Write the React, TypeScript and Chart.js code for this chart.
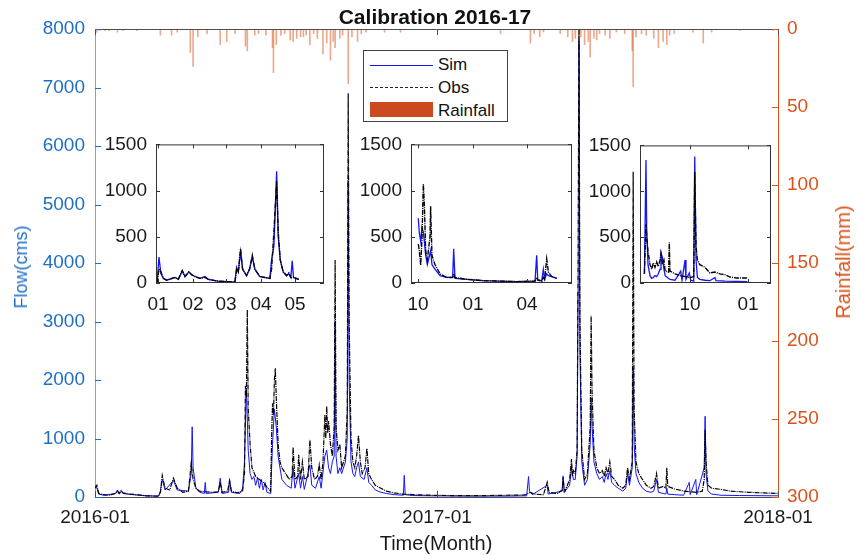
import React, { useEffect, useRef } from 'react';
import { Chart, registerables } from 'chart.js';

Chart.register(...registerables);
Chart.defaults.font.family = "'Liberation Sans', Arial, sans-serif";

type P = [number, number];

// ---- DATA (x = days since 2016-01-01) ----
const mainTickDays = [0, 366, 731];
const mainTickLabels = ['2016-01', '2017-01', '2018-01'];

const mainSim: P[] = [
  [0, 200], [2, 150], [4, 50], [10, 30], [22, 60], [24, 120], [26, 50], [28, 100], [30, 60], [40, 40], [55, 20], [68, 15],
  [70, 100], [72, 300], [75, 120], [84, 280], [88, 120], [100, 100], [103, 400], [104, 1200], [105, 500], [108, 150],
  [112, 80], [117, 60], [118, 250], [119, 60], [132, 80], [134, 320], [136, 60], [143, 80], [144, 300], [146, 80],
  [155, 60], [158, 150], [160, 600], [162, 1850], [164, 800], [166, 400], [168, 300], [170, 350], [172, 200], [174, 330],
  [176, 150], [178, 300], [180, 120], [182, 250], [184, 80], [188, 60], [190, 900], [192, 1500], [194, 1200], [196, 700],
  [200, 300], [205, 200], [210, 150], [212, 500], [214, 150], [218, 400], [220, 150], [222, 350], [224, 130], [230, 550],
  [232, 200], [236, 150], [240, 350], [242, 150], [246, 700], [248, 800], [250, 500], [252, 400], [254, 600], [256, 700],
  [257, 3000], [258, 700], [260, 400], [262, 500], [264, 400], [268, 600], [270, 1000], [271, 5400], [272, 2000],
  [274, 600], [276, 400], [278, 350], [280, 500], [282, 600], [284, 350], [288, 300], [291, 500], [293, 250], [296, 200],
  [300, 120], [306, 80], [312, 60], [320, 40], [330, 30], [331, 370], [332, 40], [340, 25], [360, 20], [400, 15],
  [440, 15], [462, 20], [464, 350], [465, 100], [468, 40], [484, 200], [485, 50], [500, 100], [501, 350], [502, 80],
  [508, 200], [510, 500], [512, 300], [514, 300], [516, 700], [517, 3500], [518, 7800], [519, 2500], [521, 600],
  [524, 200], [527, 300], [530, 900], [531, 1700], [532, 1200], [534, 600], [537, 400], [540, 300], [543, 350],
  [545, 250], [547, 400], [549, 300], [551, 450], [553, 250], [556, 200], [560, 150], [565, 100], [568, 150], [570, 400],
  [572, 200], [575, 500], [576, 2200], [577, 900], [579, 400], [582, 250], [586, 150], [590, 100], [595, 80], [598, 100],
  [601, 300], [603, 80], [608, 60], [611, 50], [612, 150], [613, 50], [620, 40], [630, 30], [636, 250], [637, 40],
  [643, 300], [644, 40], [652, 500], [653, 1380], [654, 400], [656, 100], [660, 50], [670, 30], [690, 25], [731, 20],
];

const mainObs: P[] = [
  [0, 150], [2, 200], [4, 60], [8, 40], [15, 30], [22, 60], [24, 100], [26, 60], [28, 110], [30, 70], [36, 50], [45, 40],
  [55, 20], [68, 15], [70, 80], [72, 370], [75, 150], [80, 120], [84, 320], [88, 150], [94, 80], [100, 100], [103, 580],
  [105, 300], [108, 150], [112, 100], [118, 90], [125, 80], [132, 90], [134, 250], [136, 80], [142, 100], [144, 280],
  [146, 100], [152, 70], [158, 100], [160, 400], [161, 1900], [162, 1700], [163, 3200], [164, 1500], [166, 900],
  [168, 500], [172, 350], [176, 300], [180, 250], [185, 150], [188, 100], [189, 1000], [190, 1600], [191, 1400],
  [192, 2000], [193, 2200], [194, 1700], [196, 900], [198, 600], [200, 500], [204, 400], [208, 300], [211, 350],
  [212, 850], [214, 300], [217, 350], [218, 720], [220, 300], [222, 600], [224, 300], [228, 350], [230, 980], [232, 500],
  [235, 300], [238, 350], [240, 550], [242, 300], [244, 600], [246, 1400], [247, 1000], [248, 1550], [249, 1100],
  [250, 1300], [252, 900], [254, 700], [256, 1200], [257, 4050], [258, 1200], [260, 800], [262, 900], [264, 500],
  [266, 600], [268, 700], [270, 1500], [271, 6900], [272, 3000], [274, 1000], [276, 600], [278, 500], [280, 700],
  [282, 1050], [284, 600], [286, 400], [289, 500], [291, 830], [293, 400], [296, 300], [300, 200], [306, 150],
  [312, 100], [320, 70], [330, 50], [340, 40], [360, 30], [380, 25], [420, 25], [440, 30], [460, 35], [466, 80],
  [470, 50], [480, 40], [484, 250], [486, 80], [495, 60], [500, 120], [501, 300], [503, 100], [508, 300], [510, 650],
  [511, 350], [512, 450], [514, 400], [516, 800], [517, 4000], [518, 8100], [519, 3000], [521, 800], [524, 300],
  [527, 400], [530, 1200], [531, 3100], [532, 1800], [534, 800], [537, 500], [540, 400], [543, 450], [545, 350],
  [547, 500], [549, 400], [551, 600], [553, 350], [556, 300], [560, 200], [565, 150], [568, 200], [570, 500], [572, 300],
  [575, 600], [576, 5560], [577, 1500], [579, 600], [582, 400], [586, 300], [590, 200], [595, 150], [598, 180],
  [601, 400], [603, 150], [608, 180], [611, 150], [612, 500], [613, 180], [620, 140], [630, 100], [636, 90], [644, 80],
  [650, 100], [652, 300], [653, 1150], [654, 600], [656, 200], [660, 150], [670, 130], [680, 100], [690, 90], [700, 80],
  [715, 70], [731, 60],
];

const mainRain: P[] = [
  [2, 2], [5, 1], [11, 1], [15, 1], [24, 2], [30, 1], [45, 1], [70, 4], [82, 4], [88, 2], [102, 15], [105, 24], [110, 5],
  [120, 3], [134, 10], [141, 8], [150, 3], [161, 11], [163, 14], [171, 4], [175, 3], [183, 4], [190, 12], [191, 28],
  [194, 10], [199, 4], [203, 3], [209, 7], [212, 8], [216, 6], [220, 5], [223, 5], [226, 4], [230, 10], [234, 3],
  [238, 6], [244, 16], [248, 9], [252, 20], [255, 8], [257, 12], [262, 6], [265, 4], [271, 35], [275, 5], [281, 8],
  [285, 3], [290, 2], [310, 2], [327, 2], [434, 3], [466, 9], [470, 3], [476, 5], [480, 2], [498, 3], [506, 5], [511, 8],
  [514, 6], [518, 14], [520, 5], [524, 10], [528, 8], [530, 18], [534, 6], [537, 7], [540, 3], [546, 4], [551, 6],
  [558, 2], [567, 3], [575, 14], [576, 37], [579, 5], [585, 3], [590, 4], [598, 6], [603, 12], [608, 8], [612, 10],
  [615, 4], [620, 3], [640, 2], [651, 9], [660, 2], [690, 1], [726, 1],
];

const inset1TickDays = [0, 31, 60, 91, 121];
const inset1TickLabels = ['01', '02', '03', '04', '05'];
const inset1Sim: P[] = [
  [-1, 0], [0.6, 280], [2.4, 100], [4.5, 50], [7.4, 30], [14.8, 60], [17.8, 40], [21.3, 130], [23.7, 70], [27.2, 120],
  [29.6, 90], [32.5, 70], [37, 50], [41.4, 70], [44.4, 40], [53, 20], [68, 10], [69.5, 170], [71, 120], [73, 340],
  [74.8, 150], [78.3, 80], [81, 150], [83.4, 280], [85.7, 150], [90, 70], [99, 50], [100.5, 250], [102.6, 400],
  [105, 1210], [106.4, 500], [108.2, 250], [110.8, 120], [113.8, 80], [115.8, 100], [117.6, 60], [118.8, 240],
  [120, 60], [124.6, 40],
];
const inset1Obs: P[] = [
  [-1, 0], [0.6, 150], [2.4, 120], [4.5, 50], [7.4, 30], [14.8, 60], [17.8, 40], [21.3, 135], [23.7, 70], [27.2, 120],
  [29.6, 90], [32.5, 70], [37, 50], [41.4, 60], [44.4, 40], [53, 20], [68, 10], [69.5, 150], [71, 120], [73, 370],
  [74.8, 150], [78.3, 80], [81, 150], [83.4, 300], [85.7, 150], [90, 70], [99, 50], [100.5, 150], [102.6, 560],
  [105, 1100], [106.4, 550], [108.2, 250], [110.8, 120], [113.8, 80], [115.8, 110], [117.6, 60], [120, 60],
  [124.6, 40],
];

const inset2TickDays = [274, 366, 456];
const inset2TickLabels = ['10', '01', '04'];
const inset2Sim: P[] = [
  [274.2, 700], [275.8, 550], [278.2, 450], [280.4, 600], [282.6, 550], [284.3, 450], [286.5, 300], [289.3, 200],
  [294.8, 350], [297, 200], [302, 150], [310.4, 80], [321.6, 60], [331.6, 60], [333.3, 370], [335.5, 50], [355, 40],
  [382.8, 25], [410.7, 20], [438.6, 15], [469.2, 20], [472, 300], [473.7, 40], [480.4, 20], [483.1, 150], [485.3, 40],
  [488.7, 100], [491.5, 80], [497, 70], [505.5, 50],
];
const inset2Obs: P[] = [
  [274.2, 420], [275.8, 350], [278.2, 190], [280.4, 500], [282.6, 1070], [284.3, 850], [286.5, 350], [289.3, 250],
  [293.7, 500], [294.8, 830], [297, 300], [302, 200], [310.4, 100], [321.6, 60], [331.6, 60], [333.3, 100], [335.5, 60],
  [355, 40], [382.8, 25], [410.7, 20], [438.6, 15], [469.2, 20], [472, 60], [473.7, 30], [480.4, 20], [483.1, 60],
  [485.3, 40], [488.7, 260], [491.5, 120], [497, 70], [505.5, 50],
];

const inset3TickDays = [639, 731];
const inset3TickLabels = ['10', '01'];
const inset3Sim: P[] = [
  [567, 100], [569.5, 1340], [570.6, 600], [572.7, 200], [575.9, 80], [578.5, 50], [581.2, 60], [583.8, 80], [586.5, 70],
  [589.1, 100], [591.8, 150], [593.3, 330], [595.5, 280], [598, 150], [600, 80], [605.5, 50], [607.6, 40], [615.6, 30],
  [624.6, 130], [626.7, 30], [631.5, 250], [633, 40], [638.3, 110], [640.4, 30], [645.3, 20], [646.9, 1380], [649, 250],
  [651.2, 60], [654.9, 40], [663.2, 30], [671, 25], [679, 60], [680.6, 25], [695, 20], [713.6, 18], [730.4, 15],
];
const inset3Obs: P[] = [
  [567, 100], [569.5, 640], [570.6, 500], [572.7, 350], [575.9, 200], [578.5, 150], [581.2, 220], [583.8, 170],
  [586.5, 230], [589.1, 180], [591.8, 250], [593.3, 320], [595.5, 200], [598, 250], [600, 130], [605.5, 120],
  [606.5, 440], [607.6, 130], [615.6, 100], [624.6, 80], [631.5, 70], [640.4, 60], [645.3, 70], [646.9, 1210],
  [649, 400], [651.2, 250], [654.9, 200], [663.2, 170], [671, 110], [679, 120], [687, 100], [695, 90], [703, 65],
  [713.6, 55], [730.4, 55],
];

// ---- STYLE ----
const SIM_COLOR = '#1414ff';
const OBS_COLOR = '#000000';
const RAIN_COLOR = 'rgba(217,83,25,0.5)';
const LEFT_COLOR = '#1f6ec4';
const RIGHT_COLOR = '#D95319';
const FRAME = '#4d4d4d';
const FONT_FAMILY = "'Liberation Sans', Arial, sans-serif";
const TICK_FONT = { size: 19 };
const OBS_DASH = [5, 1, 1, 1];
const INSET_AXIS_W = 60;
const INSET_AXIS_H = 34;
const INSET_PAD_T = 12;
const INSET_PAD_R = 8;

const toXY = (arr: P[]) => arr.map(([x, y]) => ({ x, y }));
const plain = (v: any) => String(v);
const labelFor = (days: number[], labels: string[]) => (v: any) => {
  const i = days.indexOf(Number(v));
  return i >= 0 ? labels[i] : '';
};

const mainFrame = {
  id: 'mainFrame',
  afterDraw(chart: any) {
    const { ctx, chartArea: a, scales } = chart;
    ctx.save();
    ctx.lineWidth = 1;
    ctx.strokeStyle = FRAME;
    ctx.beginPath();
    ctx.moveTo(a.left, a.top + 0.5);
    ctx.lineTo(a.right, a.top + 0.5);
    for (const d of mainTickDays) {
      const x = Math.round(scales.x.getPixelForValue(d)) + 0.5;
      ctx.moveTo(x, a.bottom);
      ctx.lineTo(x, a.bottom - 6);
      ctx.moveTo(x, a.top);
      ctx.lineTo(x, a.top + 6);
    }
    ctx.stroke();
    ctx.strokeStyle = LEFT_COLOR;
    ctx.beginPath();
    for (const t of scales.y.ticks) {
      const y = Math.round(scales.y.getPixelForValue(t.value)) + 0.5;
      ctx.moveTo(a.left, y);
      ctx.lineTo(a.left + 6, y);
    }
    ctx.stroke();
    ctx.strokeStyle = RIGHT_COLOR;
    ctx.beginPath();
    for (const t of scales.y1.ticks) {
      const y = Math.round(scales.y1.getPixelForValue(t.value)) + 0.5;
      ctx.moveTo(a.right, y);
      ctx.lineTo(a.right - 6, y);
    }
    ctx.stroke();
    ctx.restore();
  },
};

const insetFrame = {
  id: 'insetFrame',
  beforeDraw(chart: any) {
    const { ctx, chartArea: a } = chart;
    ctx.save();
    ctx.fillStyle = '#ffffff';
    ctx.fillRect(a.left, a.top, a.right - a.left, a.bottom - a.top);
    ctx.restore();
  },
  afterDraw(chart: any) {
    const { ctx, chartArea: a, scales } = chart;
    ctx.save();
    ctx.lineWidth = 1;
    ctx.strokeStyle = '#333';
    ctx.strokeRect(a.left + 0.5, a.top + 0.5, a.right - a.left - 1, a.bottom - a.top - 1);
    ctx.beginPath();
    for (const t of scales.x.ticks) {
      const x = Math.round(scales.x.getPixelForValue(t.value)) + 0.5;
      ctx.moveTo(x, a.bottom);
      ctx.lineTo(x, a.bottom - 4);
      ctx.moveTo(x, a.top);
      ctx.lineTo(x, a.top + 4);
    }
    for (const t of scales.y.ticks) {
      const y = Math.round(scales.y.getPixelForValue(t.value)) + 0.5;
      ctx.moveTo(a.left, y);
      ctx.lineTo(a.left + 4, y);
      ctx.moveTo(a.right, y);
      ctx.lineTo(a.right - 4, y);
    }
    ctx.stroke();
    ctx.restore();
  },
};

function insetConfig(sim: P[], obs: P[], min: number, max: number, tickDays: number[]): any {
  return {
    type: 'line',
    data: {
      datasets: [
        { label: 'Obs', data: toXY(obs), borderColor: OBS_COLOR, borderWidth: 1.4, borderDash: OBS_DASH, pointRadius: 0, order: 1 },
        { label: 'Sim', data: toXY(sim), borderColor: SIM_COLOR, borderWidth: 1.3, pointRadius: 0, order: 2 },
      ],
    },
    options: {
      animation: false,
      responsive: false,
      events: [],
      layout: { padding: { top: INSET_PAD_T, right: INSET_PAD_R, left: 0, bottom: 0 } },
      plugins: { legend: { display: false }, tooltip: { enabled: false } },
      scales: {
        x: {
          type: 'linear', min, max, offset: false,
          grid: { display: false, drawTicks: false }, border: { display: false },
          ticks: { display: false },
          afterBuildTicks: (s: any) => { s.ticks = tickDays.map((v) => ({ value: v })); },
          afterFit: (s: any) => { s.height = INSET_AXIS_H; },
        },
        y: {
          type: 'linear', min: 0, max: 1500,
          grid: { display: false, drawTicks: false }, border: { display: false },
          ticks: { stepSize: 500, color: '#1a1a1a', font: TICK_FONT, padding: 9, callback: plain },
          afterFit: (s: any) => { s.width = INSET_AXIS_W; },
        },
      },
    },
    plugins: [insetFrame],
  };
}

const INSETS = [
  { left: 96, top: 124, width: 236, height: 193, sim: inset1Sim, obs: inset1Obs, min: -2, max: 147, days: inset1TickDays, labels: inset1TickLabels },
  { left: 351, top: 124, width: 229, height: 193, sim: inset2Sim, obs: inset2Obs, min: 262, max: 531, days: inset2TickDays, labels: inset2TickLabels },
  { left: 580, top: 125, width: 199, height: 192, sim: inset3Sim, obs: inset3Obs, min: 560, max: 768, days: inset3TickDays, labels: inset3TickLabels },
];

// month-label positions in the inset boxes, from the same min/max the inset x scales use
const insetLabelPos = (ins: typeof INSETS[number], d: number) => {
  const plotL = ins.left + INSET_AXIS_W;
  const plotR = ins.left + ins.width - INSET_PAD_R;
  return {
    x: plotL + ((d - ins.min) / (ins.max - ins.min)) * (plotR - plotL),
    y: ins.top + ins.height - INSET_AXIS_H + 21,
  };
};

export default function App() {
  const mainRef = useRef<HTMLCanvasElement>(null);
  const r1 = useRef<HTMLCanvasElement>(null);
  const r2 = useRef<HTMLCanvasElement>(null);
  const r3 = useRef<HTMLCanvasElement>(null);

  useEffect(() => {
    const insetRefs = [r1, r2, r3];
    const charts: Chart[] = [];
    const main = new Chart(mainRef.current!, {
      type: 'line',
      data: {
        datasets: [
          { label: 'Sim', data: toXY(mainSim), borderColor: SIM_COLOR, borderWidth: 1, pointRadius: 0, yAxisID: 'y', order: 2 } as any,
          { label: 'Obs', data: toXY(mainObs), borderColor: OBS_COLOR, borderWidth: 1.2, borderDash: OBS_DASH, pointRadius: 0, yAxisID: 'y', order: 1 } as any,
          { type: 'bar', label: 'Rainfall', data: toXY(mainRain), backgroundColor: RAIN_COLOR, barThickness: 1, yAxisID: 'y1', order: 3 } as any,
        ],
      },
      options: {
        animation: false,
        responsive: false,
        events: [],
        layout: { padding: { top: 29, left: 0, right: 0, bottom: 0 } },
        plugins: { legend: { display: false }, tooltip: { enabled: false } },
        scales: {
          x: {
            type: 'linear', min: 0, max: 731, offset: false,
            grid: { display: false, drawTicks: false }, border: { color: FRAME },
            ticks: { color: '#1a1a1a', font: TICK_FONT, padding: 9, autoSkip: false, maxRotation: 0, minRotation: 0, callback: labelFor(mainTickDays, mainTickLabels) },
            afterBuildTicks: (s: any) => { s.ticks = mainTickDays.map((v) => ({ value: v })); },
            afterFit: (s: any) => { s.height = 58; },
          } as any,
          y: {
            type: 'linear', position: 'left', min: 0, max: 8000,
            grid: { display: false, drawTicks: false }, border: { color: '#6fa8e0' },
            ticks: { stepSize: 1000, color: LEFT_COLOR, font: TICK_FONT, padding: 10, callback: plain },
            afterFit: (s: any) => { s.width = 95; },
          } as any,
          y1: {
            type: 'linear', position: 'right', min: 0, max: 300, reverse: true,
            grid: { display: false, drawTicks: false }, border: { color: RIGHT_COLOR },
            ticks: { stepSize: 50, color: RIGHT_COLOR, font: TICK_FONT, padding: 9, callback: plain },
            afterFit: (s: any) => { s.width = 79; },
          } as any,
        },
      },
      plugins: [mainFrame],
    });
    charts.push(main);
    INSETS.forEach((ins, k) => {
      charts.push(new Chart(insetRefs[k].current!, insetConfig(ins.sim, ins.obs, ins.min, ins.max, ins.days)));
    });
    return () => charts.forEach((c) => c.destroy());
  }, []);

  const abs = (s: React.CSSProperties): React.CSSProperties => ({ position: 'absolute', ...s });

  return (
    <div style={{ position: 'absolute', left: 0, top: 0, width: 857, height: 555, background: '#fff', fontFamily: FONT_FAMILY, overflow: 'hidden' }}>
      <canvas ref={mainRef} width={857} height={555} style={abs({ left: 0, top: 0, zIndex: 0 })} />
      <canvas ref={r1} width={INSETS[0].width} height={INSETS[0].height} style={abs({ left: INSETS[0].left, top: INSETS[0].top, zIndex: 1 })} />
      <canvas ref={r2} width={INSETS[1].width} height={INSETS[1].height} style={abs({ left: INSETS[1].left, top: INSETS[1].top, zIndex: 1 })} />
      <canvas ref={r3} width={INSETS[2].width} height={INSETS[2].height} style={abs({ left: INSETS[2].left, top: INSETS[2].top, zIndex: 1 })} />

      {INSETS.map((ins, k) =>
        ins.days.map((d, i) => {
          const p = insetLabelPos(ins, d);
          return (
            <span
              key={`lbl-${k}-${i}`}
              style={abs({ left: Math.round(p.x) - 20, top: Math.round(p.y) - 10, width: 40, height: 20, display: 'block', textAlign: 'center', fontSize: 19, lineHeight: '20px', color: '#1a1a1a', zIndex: 6, whiteSpace: 'nowrap' })}
            >
              {ins.labels[i]}
            </span>
          );
        })
      )}

      <div style={abs({ left: 285, top: 7, width: 300, textAlign: 'center', fontSize: 21, lineHeight: '20px', fontWeight: 'bold', color: '#111', zIndex: 3 })}>
        Calibration 2016-17
      </div>
      <div style={abs({ left: 286, top: 534, width: 300, textAlign: 'center', fontSize: 20, lineHeight: '19px', color: '#1a1a1a', zIndex: 3 })}>
        Time(Month)
      </div>
      <div style={abs({ left: 21, top: 267, transform: 'translate(-50%, -50%) rotate(-90deg)', whiteSpace: 'nowrap', fontSize: 18, lineHeight: '18px', color: LEFT_COLOR, zIndex: 3 })}>
        Flow(cms)
      </div>
      <div style={abs({ left: 843, top: 262, transform: 'translate(-50%, -50%) rotate(-90deg)', whiteSpace: 'nowrap', fontSize: 20, lineHeight: '20px', color: RIGHT_COLOR, zIndex: 3 })}>
        Rainfall(mm)
      </div>

      <div style={abs({ left: 363, top: 50, width: 143, height: 70, border: '1px solid #444', background: '#fff', zIndex: 4 })}>
        <div style={abs({ left: 6, top: 14, width: 63, height: 0, borderTop: `1px solid ${SIM_COLOR}` })} />
        <div style={abs({ left: 74, top: 5, fontSize: 17, lineHeight: '17px', color: '#111' })}>Sim</div>
        <div style={abs({ left: 6, top: 36, width: 63, height: 0, borderTop: '1px dashed #222' })} />
        <div style={abs({ left: 74, top: 28, fontSize: 17, lineHeight: '17px', color: '#111' })}>Obs</div>
        <div style={abs({ left: 6, top: 51, width: 63, height: 15, background: '#CC4A1F' })} />
        <div style={abs({ left: 74, top: 51, fontSize: 17, lineHeight: '17px', color: '#111' })}>Rainfall</div>
      </div>
    </div>
  );
}
